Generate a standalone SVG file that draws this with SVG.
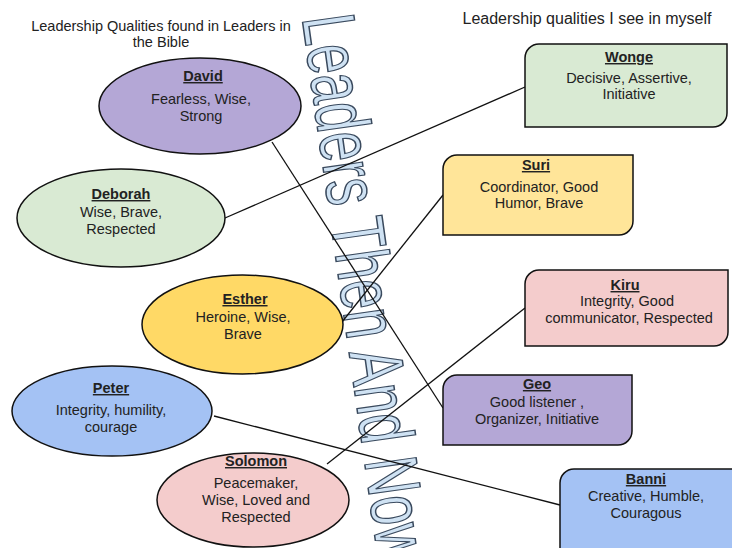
<svg xmlns="http://www.w3.org/2000/svg" width="732" height="548" viewBox="0 0 732 548">
<style>
text{font-family:"Liberation Sans",Arial,sans-serif;font-size:14.5px;fill:#222;text-anchor:middle}
.h{font-weight:bold;text-decoration:underline}
.hd{font-size:14.5px}
.hr{font-size:16px}
.nd{stroke:#111;stroke-width:1.5}
.ln{stroke:#111;stroke-width:1.3;fill:none}
.title{font-size:53px;text-anchor:start;fill:#cfe2f3;stroke:#3a4a5e;stroke-width:1.3;vector-effect:non-scaling-stroke}
</style>
<rect width="732" height="548" fill="#fff"/>
<text class="hd" x="161" y="31">Leadership Qualities found in Leaders in</text>
<text class="hd" x="161" y="47">the Bible</text>
<text class="hr" x="587" y="24">Leadership qualities I see in myself</text>
<g id="title"><text class="title" transform="translate(302,18) rotate(82) scale(1,1.42)">Leaders Then And Now</text></g>
<g id="connectors">
<line class="ln" x1="525" y1="87" x2="225" y2="218"/>
<line class="ln" x1="272" y1="142" x2="443" y2="408"/>
<line class="ln" x1="443" y1="195" x2="342" y2="322"/>
<line class="ln" x1="525" y1="308" x2="327" y2="464"/>
<line class="ln" x1="214" y1="416" x2="560" y2="505"/>
</g>
<g id="david"><ellipse class="nd" cx="200" cy="106" rx="101" ry="48" fill="#b4a7d6"/>
<text class="h" x="203" y="81">David</text><text x="201" y="104">Fearless, Wise,</text><text x="201" y="121">Strong</text></g>
<g id="deborah"><ellipse class="nd" cx="121" cy="218" rx="104" ry="49" fill="#d9ead3"/>
<text class="h" x="121" y="199">Deborah</text><text x="121" y="217">Wise, Brave,</text><text x="121" y="234">Respected</text></g>
<g id="esther"><ellipse class="nd" cx="242.5" cy="324.5" rx="100.5" ry="49.5" fill="#ffd966"/>
<text class="h" x="245" y="304">Esther</text><text x="243" y="322">Heroine, Wise,</text><text x="243" y="339">Brave</text></g>
<g id="peter"><ellipse class="nd" cx="112" cy="411" rx="100" ry="45" fill="#a4c2f4"/>
<text class="h" x="111" y="393">Peter</text><text x="111" y="415">Integrity, humility,</text><text x="111" y="432">courage</text></g>
<g id="solomon"><ellipse class="nd" cx="253" cy="500" rx="96" ry="47" fill="#f4cccc"/>
<text class="h" x="256" y="466">Solomon</text><text x="256" y="488">Peacemaker,</text><text x="256" y="505">Wise, Loved and</text><text x="256" y="522">Respected</text></g>
<g id="wonge"><path class="nd" fill="#d9ead3" d="M539,44 H727 V113 A14,14 0 0 1 713,127 H525 V58 A14,14 0 0 1 539,44 Z"/>
<text class="h" x="629" y="62">Wonge</text><text x="629" y="83">Decisive, Assertive,</text><text x="629" y="99">Initiative</text></g>
<g id="suri"><path class="nd" fill="#ffe599" d="M457,155 H633 V221 A14,14 0 0 1 619,235 H443 V169 A14,14 0 0 1 457,155 Z"/>
<text class="h" x="536" y="170">Suri</text><text x="539" y="192">Coordinator, Good</text><text x="539" y="208">Humor, Brave</text></g>
<g id="kiru"><path class="nd" fill="#f4cccc" d="M539,270 H728 V332 A14,14 0 0 1 714,346 H525 V284 A14,14 0 0 1 539,270 Z"/>
<text class="h" x="625" y="290">Kiru</text><text x="627" y="306">Integrity, Good</text><text x="629" y="323">communicator, Respected</text></g>
<g id="geo"><path class="nd" fill="#b4a7d6" d="M457,375 H632 V431 A14,14 0 0 1 618,445 H443 V389 A14,14 0 0 1 457,375 Z"/>
<text class="h" x="537" y="389">Geo</text><text x="537" y="407">Good listener ,</text><text x="537" y="424">Organizer, Initiative</text></g>
<g id="banni"><path class="nd" fill="#a4c2f4" d="M574,469 H740 V565 H560 V483 A14,14 0 0 1 574,469 Z"/>
<text class="h" x="646" y="484">Banni</text><text x="646" y="501">Creative, Humble,</text><text x="646" y="518">Couragous</text></g>
</svg>
